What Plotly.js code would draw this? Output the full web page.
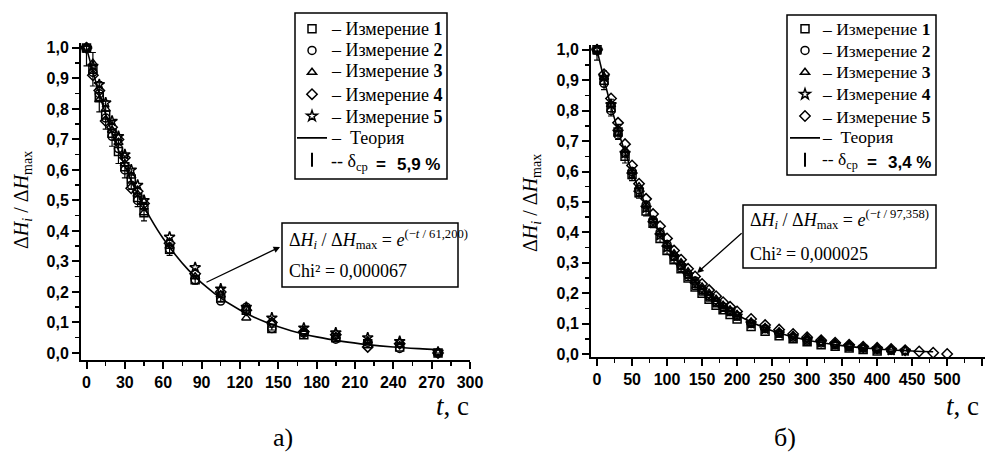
<!DOCTYPE html>
<html>
<head>
<meta charset="utf-8">
<script src="https://cdn.plot.ly/plotly-3.0.1.min.js"></script>
<style>html,body{margin:0;padding:0;background:#fff;}#chart{width:994px;height:455px;}</style>
</head>
<body>
<div id="chart"></div>
<script>
// ---------- Panel а) ----------
const tA = [0,5,10,15,20,25,30,35,40,45,65,85,105,125,145,170,195,220,245,275];
const a1 = [1.00,0.93,0.84,0.78,0.72,0.66,0.61,0.57,0.51,0.46,0.34,0.24,0.18,0.14,0.08,0.060,0.050,0.030,0.020,0.0];
const a2 = [1.00,0.92,0.85,0.77,0.71,0.67,0.60,0.55,0.50,0.48,0.34,0.24,0.17,0.15,0.08,0.065,0.045,0.035,0.015,0.0];
const a3 = [1.00,0.95,0.83,0.80,0.73,0.69,0.62,0.58,0.52,0.46,0.35,0.25,0.19,0.115,0.10,0.070,0.055,0.040,0.025,0.0];
const a4 = [1.00,0.91,0.86,0.76,0.74,0.70,0.64,0.54,0.53,0.49,0.36,0.26,0.20,0.14,0.10,0.070,0.060,0.020,0.030,0.0];
const a5 = [1.00,0.94,0.88,0.82,0.76,0.71,0.65,0.60,0.55,0.50,0.38,0.28,0.21,0.15,0.115,0.082,0.066,0.050,0.038,0.003];
const tThA = [0,10,20,30,40,50,60,80,100,120,140,160,180,200,220,240,260,275];
const thA  = [1.0,0.849,0.721,0.6125,0.520,0.4418,0.375,0.2706,0.1952,0.1407,0.1015,0.0732,0.0528,0.0381,0.0275,0.0198,0.0143,0.011];
const errA = '5,9 %';
const fitA = '61,200';
const chiA = '0,000067';

// ---------- Panel б) ----------
const tB1 = [0,10,20,30,40,50,60,70,80,90,100,110,120,130,140,150,160,170,180,190,200,220,240,260,280,300,320,340,360,380,400];
const b1  = [1.00,0.90,0.81,0.73,0.65,0.59,0.53,0.47,0.43,0.38,0.34,0.31,0.28,0.25,0.22,0.20,0.18,0.16,0.145,0.13,0.115,0.09,0.075,0.06,0.05,0.04,0.03,0.025,0.02,0.015,0.01];
const tB2 = [0,10,20,30,40,50,60,70,80,90,100,110,120,130,140,150,160,170,180,190,200,220,240,260,280,300,320,340,360,380,400,420,440];
const b2  = [1.00,0.89,0.80,0.72,0.66,0.60,0.54,0.49,0.44,0.40,0.36,0.32,0.29,0.26,0.24,0.21,0.19,0.17,0.155,0.14,0.125,0.10,0.083,0.068,0.055,0.045,0.036,0.03,0.024,0.019,0.015,0.012,0.01];
const tB3 = [0,10,20,30,40,50,60,70,80,90,100,110,120,130,140,150,160,170,180,190,200,220,240,260,280,300,320,340,360,380,400,420];
const b3  = [1.00,0.91,0.82,0.74,0.67,0.60,0.55,0.49,0.44,0.40,0.36,0.33,0.30,0.27,0.24,0.22,0.20,0.18,0.16,0.145,0.13,0.105,0.087,0.073,0.062,0.054,0.046,0.036,0.03,0.024,0.018,0.014];
const tB4 = [0,10,20,30,40,50,60,70,80,90,100,110,120,130,140,150,160,170,180,190,200,220,240,260,280,300,320,340,360,380,400,420,440];
const b4  = [1.00,0.91,0.82,0.73,0.66,0.59,0.53,0.48,0.43,0.39,0.35,0.32,0.29,0.26,0.23,0.21,0.19,0.17,0.15,0.14,0.125,0.10,0.082,0.067,0.055,0.045,0.037,0.03,0.024,0.02,0.016,0.012,0.01];
const tB5 = [0,10,20,30,40,50,60,70,80,90,100,110,120,130,140,150,160,170,180,190,200,220,240,260,280,300,320,340,360,380,400,420,440,460,480,500];
const b5  = [1.00,0.92,0.84,0.76,0.69,0.62,0.56,0.51,0.46,0.42,0.38,0.34,0.31,0.28,0.255,0.23,0.21,0.19,0.17,0.155,0.14,0.115,0.095,0.08,0.066,0.055,0.045,0.037,0.03,0.024,0.02,0.016,0.012,0.008,0.004,0.0];
const tThB = [0,20,40,60,80,100,125,150,175,200,250,300,350,400,450,480];
const thB  = [1.0,0.8143,0.6631,0.5399,0.4397,0.3581,0.2770,0.2142,0.1657,0.1282,0.0767,0.0459,0.0275,0.0164,0.0098,0.0072];
const errB = '3,4 %';
const fitB = '97,358';
const chiB = '0,000025';

const seriesNames = ['1','2','3','4','5'];
const symbolsA = ['square-open','circle-open','triangle-up-open','diamond-open','star-open'];
const symbolsB = ['square-open','circle-open','triangle-up-open','star-open','diamond-open'];

const SERIF = 'Liberation Serif, Times New Roman, serif';
const SANS = 'Liberation Sans, Arial, sans-serif';
const W = 994, H = 455;
const px = v => v / W, py = v => 1 - v / H;

function meas(t, y, sym, xa, ya, leg, err) {
  const tr = {
    x: t, y: y, type: 'scatter', mode: 'markers', xaxis: xa, yaxis: ya, legend: leg, name: ' ',
    marker: {symbol: sym, size: 8, color: 'black', line: {color: 'black', width: 1.5}},
    cliponaxis: false
  };
  if (err) tr.error_y = {type: 'percent', value: err, color: 'black', thickness: 1.2, width: 3};
  return tr;
}
const ys = [a1,a2,a3,a4,a5];
const tBs = [tB1,tB2,tB3,tB4,tB5];
const bs = [b1,b2,b3,b4,b5];
const traces = [];
for (let i = 0; i < 5; i++) traces.push(meas(tA, ys[i], symbolsA[i], 'x', 'y', 'legend', i === 0 ? parseFloat(errA.replace(',', '.')) : null));
traces.push({x: tThA, y: thA, type: 'scatter', mode: 'lines', xaxis: 'x', yaxis: 'y', legend: 'legend',
  name: ' ', line: {color: 'black', width: 1.6, shape: 'spline'}});
traces.push({x: [null], y: [null], type: 'scatter', mode: 'markers', xaxis: 'x', yaxis: 'y', legend: 'legend',
  name: ' ', marker: {symbol: 'line-ns-open', size: 10, color: 'black', line: {color: 'black', width: 2}}});
for (let i = 0; i < 5; i++) traces.push(meas(tBs[i], bs[i], symbolsB[i], 'x2', 'y2', 'legend2', i === 0 ? parseFloat(errB.replace(',', '.')) : null));
traces.push({x: tThB, y: thB, type: 'scatter', mode: 'lines', xaxis: 'x2', yaxis: 'y2', legend: 'legend2',
  name: ' ', line: {color: 'black', width: 1.6, shape: 'spline'}});
traces.push({x: [null], y: [null], type: 'scatter', mode: 'markers', xaxis: 'x2', yaxis: 'y2', legend: 'legend2',
  name: ' ', marker: {symbol: 'line-ns-open', size: 10, color: 'black', line: {color: 'black', width: 2}}});

const tickfont = {family: SANS, size: 16, color: 'black', weight: 'bold'};
function axis(extra) {
  return Object.assign({
    showline: true, linecolor: 'black', linewidth: 2, ticks: 'outside', ticklen: 7, tickwidth: 2,
    tickcolor: 'black', showgrid: false, zeroline: false, tickfont: tickfont, fixedrange: true
  }, extra);
}
const legendStyle = {
  bgcolor: 'rgba(0,0,0,0)', borderwidth: 0, xanchor: 'left', yanchor: 'top',
  font: {family: SERIF, size: 14.5, color: 'black'}, tracegroupgap: 0, itemwidth: 30
};

// legend texts (rows: y pixel centres)
const rowsA = [29, 50, 71, 95, 117, 138, 164];
const rowsB = [29, 51, 72, 94, 117, 137, 162];
function legendTexts(x0, rows, err, fs) {
  const out = [];
  const f = {family: SERIF, size: fs, color: 'black'};
  for (let i = 0; i < 5; i++) out.push({xref: 'paper', yref: 'paper', x: px(x0), y: py(rows[i]), xanchor: 'left', yanchor: 'middle',
    showarrow: false, text: '–\u00a0Измерение\u00a0<b>' + seriesNames[i] + '</b>', font: f});
  out.push({xref: 'paper', yref: 'paper', x: px(x0), y: py(rows[5]), xanchor: 'left', yanchor: 'middle',
    showarrow: false, text: '–\u00a0\u00a0Теория', font: f});
  out.push({xref: 'paper', yref: 'paper', x: px(x0), y: py(rows[6] - 2), xanchor: 'left', yanchor: 'middle',
    showarrow: false, text: '--\u00a0δ<sub>ср</sub>', font: f});
  out.push({xref: 'paper', yref: 'paper', x: px(x0 + 45), y: py(rows[6]), xanchor: 'left', yanchor: 'middle',
    showarrow: false, text: '<b>=</b>', font: {family: SANS, size: 17, color: 'black'}});
  out.push({xref: 'paper', yref: 'paper', x: px(x0 + 66), y: py(rows[6]), xanchor: 'left', yanchor: 'middle',
    showarrow: false, text: '<b>' + err + '</b>', font: {family: SANS, size: 17, color: 'black'}});
  return out;
}

const yTitle = 'Δ<i>H</i><sub><i>i</i></sub> / Δ<i>H</i><sub>max</sub>';
const fitText = v => 'Δ<i>H</i><sub><i>i</i></sub> / Δ<i>H</i><sub>max</sub> = <i>e</i><sup>(−<i>t</i> / ' + v + ')</sup>';
const layout = {
  width: W, height: H, margin: {l: 0, r: 0, t: 0, b: 0},
  paper_bgcolor: 'white', plot_bgcolor: 'white', separators: ', ', showlegend: true,
  xaxis: axis({domain: [px(81), px(470)], range: [-4.3, 300], dtick: 30, tick0: 0, anchor: 'y',
    ticklabelstandoff: 0, minor: {ticks: 'outside', dtick: 15, ticklen: 4, tickwidth: 1.5, tickcolor: 'black'}}),
  yaxis: axis({domain: [py(360), py(43)], range: [-0.023, 1.016], dtick: 0.1, tick0: 0, tickformat: '.1f', anchor: 'x',
    minor: {ticks: 'outside', dtick: 0.05, ticklen: 4, tickwidth: 1.5, tickcolor: 'black'}}),
  xaxis2: axis({domain: [px(591), px(985)], range: [-8.6, 554], dtick: 50, tick0: 0, anchor: 'y2',
    ticklabelstandoff: 0, minor: {ticks: 'outside', dtick: 25, ticklen: 4, tickwidth: 1.5, tickcolor: 'black'}}),
  yaxis2: axis({domain: [py(357), py(45)], range: [-0.01, 1.016], dtick: 0.1, tick0: 0, tickformat: '.1f', anchor: 'x2',
    minor: {ticks: 'outside', dtick: 0.05, ticklen: 4, tickwidth: 1.5, tickcolor: 'black'}}),
  legend: Object.assign({x: px(292), y: py(12.7)}, legendStyle),
  legend2: Object.assign({x: px(785), y: py(12.7)}, legendStyle),
  shapes: [
    {type: 'rect', xref: 'paper', yref: 'paper', x0: px(295), x1: px(447), y0: py(179), y1: py(13),
      line: {color: 'black', width: 1.5}, fillcolor: 'white', layer: 'above'},
    {type: 'rect', xref: 'paper', yref: 'paper', x0: px(787), x1: px(936), y0: py(175), y1: py(15),
      line: {color: 'black', width: 1.5}, fillcolor: 'white', layer: 'above'},
    {type: 'rect', xref: 'paper', yref: 'paper', x0: px(282), x1: px(458), y0: py(287), y1: py(223),
      line: {color: 'black', width: 1.5}, fillcolor: 'white', layer: 'above'},
    {type: 'rect', xref: 'paper', yref: 'paper', x0: px(743), x1: px(936), y0: py(268), y1: py(205),
      line: {color: 'black', width: 1.5}, fillcolor: 'white', layer: 'above'}
  ],
  annotations: [
    {xref: 'x', yref: 'y', x: 151.4, y: 0.3475, axref: 'x', ayref: 'y', ax: 92.7, ay: 0.2295,
      showarrow: true, arrowhead: 2, arrowsize: 1, arrowwidth: 1.3, arrowcolor: 'black', text: '', standoff: 0},
    {xref: 'x2', yref: 'y2', x: 142.9, y: 0.2664, axref: 'x2', ayref: 'y2', ax: 208.6, ay: 0.4013,
      showarrow: true, arrowhead: 2, arrowsize: 1, arrowwidth: 1.3, arrowcolor: 'black', text: '', standoff: 0},
    {xref: 'paper', yref: 'paper', x: px(287), y: py(239), xanchor: 'left', yanchor: 'middle', showarrow: false,
      text: fitText(fitA), font: {family: SERIF, size: 18, color: 'black'}},
    {xref: 'paper', yref: 'paper', x: px(287), y: py(271), xanchor: 'left', yanchor: 'middle', showarrow: false,
      text: 'Chi² = ' + chiA, font: {family: SERIF, size: 18, color: 'black'}},
    {xref: 'paper', yref: 'paper', x: px(748), y: py(219), xanchor: 'left', yanchor: 'middle', showarrow: false,
      text: fitText(fitB), font: {family: SERIF, size: 18, color: 'black'}},
    {xref: 'paper', yref: 'paper', x: px(748), y: py(254), xanchor: 'left', yanchor: 'middle', showarrow: false,
      text: 'Chi² = ' + chiB, font: {family: SERIF, size: 18, color: 'black'}},
    {xref: 'paper', yref: 'paper', x: px(22), y: py(200), textangle: -90, showarrow: false,
      xanchor: 'center', yanchor: 'middle', text: yTitle, font: {family: SERIF, size: 20, color: 'black'}},
    {xref: 'paper', yref: 'paper', x: px(531), y: py(203), textangle: -90, showarrow: false,
      xanchor: 'center', yanchor: 'middle', text: yTitle, font: {family: SERIF, size: 20, color: 'black'}},
    {xref: 'paper', yref: 'paper', x: px(452), y: py(406), showarrow: false, xanchor: 'center', yanchor: 'middle',
      text: '<i>t</i>, с', font: {family: SERIF, size: 27, color: 'black'}},
    {xref: 'paper', yref: 'paper', x: px(962), y: py(406), showarrow: false, xanchor: 'center', yanchor: 'middle',
      text: '<i>t</i>, с', font: {family: SERIF, size: 27, color: 'black'}},
    {xref: 'paper', yref: 'paper', x: px(283), y: py(437), showarrow: false, xanchor: 'center', yanchor: 'middle',
      text: 'а)', font: {family: SERIF, size: 26, color: 'black'}},
    {xref: 'paper', yref: 'paper', x: px(785), y: py(437), showarrow: false, xanchor: 'center', yanchor: 'middle',
      text: 'б)', font: {family: SERIF, size: 26, color: 'black'}}
  ].concat(legendTexts(329, rowsA, errA, 18), legendTexts(820, rowsB, errB, 17.5))
};
Plotly.newPlot('chart', traces, layout, {displayModeBar: false, staticPlot: true});
</script>
</body>
</html>
